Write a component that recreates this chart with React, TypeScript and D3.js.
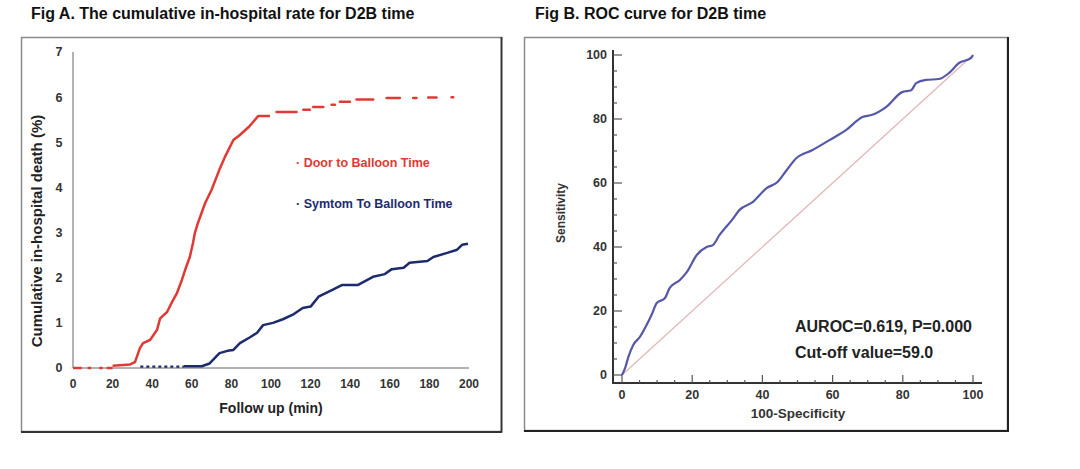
import React from "react";
import * as d3 from "d3";

// ---------- Data: Fig A ----------
const redHeadDashes: [number, number][] = [[0, 4.4], [7.4, 9.1], [13.3, 15], [17, 20]];
const redCurve: [number, number][] = [
  [20, 0.05], [28.8, 0.08], [31.3, 0.13], [33.8, 0.44], [35.4, 0.55], [38.9, 0.62], [42.4, 0.84],
  [44, 1.1], [47.5, 1.24], [50, 1.46], [52.5, 1.66], [55, 1.95], [56.6, 2.17], [59, 2.46],
  [60.6, 2.77], [61.6, 3.0], [63, 3.2], [66.7, 3.65], [70, 3.95], [74, 4.4], [77, 4.7],
  [81, 5.05], [84, 5.15], [89, 5.35], [93.5, 5.58], [99.5, 5.58],
];
const redTail: [number, number, number][] = [
  [102.8, 112.9, 5.67], [116.3, 119.6, 5.72], [121.3, 126.4, 5.78], [130.6, 132.3, 5.83],
  [134.8, 139.9, 5.9], [143.2, 151.6, 5.95], [158.4, 165.1, 5.98], [171.8, 173.5, 5.98],
  [179.4, 183.6, 5.99], [191.2, 192, 6.0],
];
const blueDotted: [number, number, number] = [34, 56, 0.03];
const blueCurve: [number, number][] = [
  [56, 0.04], [65, 0.04], [69, 0.1], [74, 0.33], [78, 0.38], [81, 0.4], [84.3, 0.55], [89, 0.67],
  [93, 0.78], [96, 0.95], [101, 1.0], [106, 1.08], [111, 1.18], [116, 1.33], [120, 1.36],
  [124, 1.58], [131, 1.73], [136, 1.84], [144, 1.84], [151.5, 2.02], [157.5, 2.08], [161, 2.19],
  [167, 2.22], [170, 2.33], [179, 2.37], [182, 2.46], [189, 2.55], [194, 2.62], [196.5, 2.73],
  [199.5, 2.75],
];
const aXTicks = [0, 20, 40, 60, 80, 100, 120, 140, 160, 180, 200];
const aYTicks = [0, 1, 2, 3, 4, 5, 6, 7];

// ---------- Data: Fig B ----------
const rocCurve: [number, number][] = [
  [0, 0], [0.9, 2.2], [1.8, 5.6], [3.2, 9.4], [5.1, 11.9], [7, 15.6], [8.5, 19], [9.9, 22.5],
  [12.2, 24], [13.6, 27.2], [16.5, 29.7], [18.5, 32.2], [21.3, 37.5], [24.1, 40], [25.9, 40.6],
  [27.8, 43.8], [31.3, 48.4], [33.5, 51.6], [37.2, 54], [41.2, 58.4], [44.3, 60.3], [46.9, 64],
  [49.7, 67.8], [54.3, 70.3], [59.1, 73.4], [63.9, 76.6], [68.5, 80.6], [71.3, 81.3],
  [75.3, 83.8], [79.8, 88.4], [82.4, 89], [83.8, 91.2], [86.6, 92.2], [90.3, 92.5],
  [93.2, 94.4], [96, 97.5], [99.4, 99], [100, 100],
];
const bMajor = [0, 20, 40, 60, 80, 100];
const bMinor = d3.range(0, 101, 5);

const FONT = "'Liberation Sans', Arial, sans-serif";
const RED = "#e03a34";
const NAVY = "#1c2b6e";
const ROC = "#5558aa";

export default function App() {
  // Fig A scales
  const ax = d3.scaleLinear().domain([0, 200]).range([73, 469]);
  const ay = d3.scaleLinear().domain([0, 7]).range([368, 52]);
  const lineA = d3.line<[number, number]>().x(d => ax(d[0])).y(d => ay(d[1]));

  // Fig B scales
  const bx = d3.scaleLinear().domain([0, 100]).range([622, 973]);
  const by = d3.scaleLinear().domain([0, 100]).range([375, 55]);
  const lineB = d3.line<[number, number]>().x(d => bx(d[0])).y(d => by(d[1])).curve(d3.curveMonotoneX);

  return (
    <svg width={1080} height={469} style={{ position: "absolute", left: 0, top: 0, background: "#fff" }} fontFamily={FONT}>
      <rect x={0} y={0} width={1080} height={469} fill="#fff" />
      {/* Titles */}
      <text x={31} y={19} fontSize={16} fontWeight="bold" fill="#111">Fig A.  The cumulative in-hospital rate for D2B time</text>
      <text x={535} y={19} fontSize={16} fontWeight="bold" fill="#111">Fig B. ROC curve for D2B time</text>

      {/* Panel A frame */}
      <rect x={21.5} y={37.5} width={480} height={394} fill="none" stroke="#8a8a8a" strokeWidth={1.5} />
      <line x1={501.5} y1={37} x2={501.5} y2={432.5} stroke="#333" strokeWidth={1.8} />
      <line x1={21} y1={432} x2={502} y2={432} stroke="#333" strokeWidth={1.8} />

      {/* Panel A axes */}
      <line x1={ax(0)} y1={ay(7)} x2={ax(0)} y2={ay(0)} stroke="#999" strokeWidth={1.5} />
      <line x1={ax(0)} y1={ay(0)} x2={ax(200)} y2={ay(0)} stroke="#999" strokeWidth={1.5} />
      {aYTicks.map(t => (
        <text key={"ay" + t} x={59} y={ay(t)} dy="0.35em" textAnchor="middle" fontSize={12.5} fontWeight="bold" fill="#333">{t}</text>
      ))}
      {aXTicks.map(t => (
        <text key={"ax" + t} x={ax(t)} y={384} dy="0.35em" textAnchor="middle" fontSize={12} fontWeight="bold" fill="#333">{t}</text>
      ))}
      <text x={271} y={413} textAnchor="middle" fontSize={14} fontWeight="bold" fill="#222">Follow up (min)</text>
      <text transform={`translate(42,${231}) rotate(-90)`} textAnchor="middle" fontSize={15} fontWeight="bold" fill="#222">Cumulative in-hospital death (%)</text>

      {/* Red series */}
      {redHeadDashes.map((d, i) => (
        <line key={"rh" + i} x1={ax(d[0])} x2={ax(d[1])} y1={ay(0)} y2={ay(0)} stroke={RED} strokeWidth={2.5} />
      ))}
      <path d={lineA(redCurve) || ""} fill="none" stroke={RED} strokeWidth={2.5} strokeLinejoin="round" />
      {redTail.map((d, i) => (
        <line key={"rt" + i} x1={ax(d[0])} x2={ax(d[1])} y1={ay(d[2])} y2={ay(d[2])} stroke={RED} strokeWidth={2.5} strokeLinecap="round" />
      ))}
      {/* Blue series */}
      <line x1={ax(blueDotted[0])} x2={ax(blueDotted[1])} y1={ay(blueDotted[2])} y2={ay(blueDotted[2])} stroke={NAVY} strokeWidth={2.3} strokeDasharray="3,3" />
      <path d={lineA(blueCurve) || ""} fill="none" stroke={NAVY} strokeWidth={2.5} strokeLinejoin="round" />

      {/* Legend A */}
      <text x={296} y={167} fontSize={12.5} fontWeight="bold" fill={RED}>· Door to Balloon Time</text>
      <text x={296} y={208} fontSize={12.5} fontWeight="bold" fill={NAVY}>· Symtom To Balloon Time</text>

      {/* Panel B frame */}
      <rect x={524.5} y={37.5} width={483} height={393} fill="none" stroke="#8a8a8a" strokeWidth={1.5} />
      <line x1={1008} y1={37} x2={1008} y2={431.5} stroke="#222" strokeWidth={2} />
      <line x1={524} y1={431} x2={1009} y2={431} stroke="#222" strokeWidth={2} />

      {/* Panel B diagonal and curve */}
      <line x1={bx(0)} y1={by(0)} x2={bx(100)} y2={by(100)} stroke="#e2b4b4" strokeWidth={1.2} />
      <path d={lineB(rocCurve) || ""} fill="none" stroke={ROC} strokeWidth={2.2} strokeLinejoin="round" />

      {/* Panel B axes */}
      <line x1={613} y1={50} x2={613} y2={383} stroke="#333" strokeWidth={2} />
      <line x1={612} y1={383} x2={982} y2={383} stroke="#333" strokeWidth={2} />
      {bMinor.map(t => (
        <g key={"bm" + t}>
          <line x1={613} x2={bMajor.includes(t) ? 622 : 617} y1={by(t)} y2={by(t)} stroke="#555" strokeWidth={1.2} />
          <line x1={bx(t)} x2={bx(t)} y1={383} y2={bMajor.includes(t) ? 375 : 380} stroke="#555" strokeWidth={1.2} />
        </g>
      ))}
      {bMajor.map(t => (
        <g key={"bl" + t}>
          <text x={607} y={by(t)} dy="0.35em" textAnchor="end" fontSize={12.5} fontWeight="bold" fill="#333">{t}</text>
          <text x={bx(t)} y={395} dy="0.35em" textAnchor="middle" fontSize={12.5} fontWeight="bold" fill="#333">{t}</text>
        </g>
      ))}
      <text x={798} y={418} textAnchor="middle" fontSize={13.5} fontWeight="bold" fill="#333">100-Specificity</text>
      <text transform={`translate(565,${213}) rotate(-90)`} textAnchor="middle" fontSize={12} fontWeight="bold" fill="#333">Sensitivity</text>

      <text x={795} y={332} fontSize={16} fontWeight="bold" fill="#222">AUROC=0.619, P=0.000</text>
      <text x={795} y={358} fontSize={16} fontWeight="bold" fill="#222">Cut-off value=59.0</text>
    </svg>
  );
}
